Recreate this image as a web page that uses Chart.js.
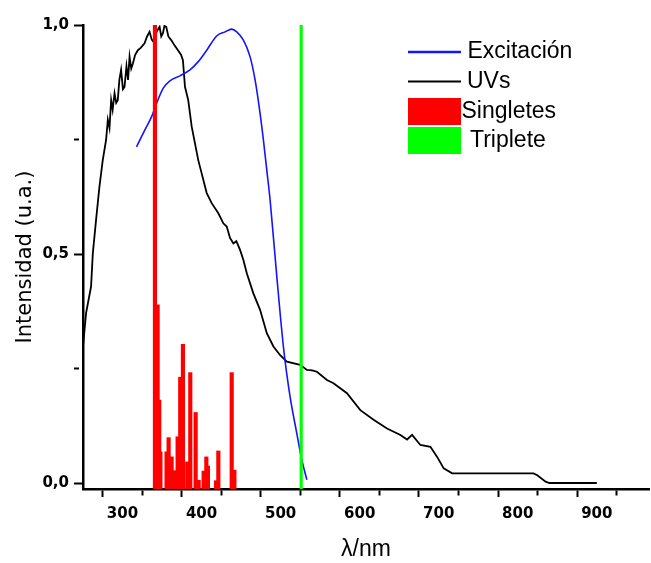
<!DOCTYPE html>
<html>
<head>
<meta charset="utf-8">
<script src="https://cdn.jsdelivr.net/npm/chart.js@4.4.1/dist/chart.umd.min.js"></script>
<style>
html,body{margin:0;padding:0;background:#ffffff;}
#wrap{width:651px;height:563px;}
</style>
</head>
<body>
<div id="wrap"><canvas id="c" width="651" height="563"></canvas></div>
<script>
// ---- data ----
const uvWavelength = [250.1,253.9,260.2,262.4,266.5,270.8,275.0,279.2,281.4,283.5,285.6,287.5,289.9,292.0,294.0,296.0,298.2,300.5,302.5,305.0,307.0,308.9,311.0,313.1,316.0,319.4,323.0,327.9,331.0,334.2,337.0,340.6,343.0,346.9,349.0,351.1,353.0,355.3,358.0,361.6,366.0,370.1,374.0,376.4,379.0,383.1,387.5,391.6,395.8,400.1,406.5,412.8,421.2,427.5,431.8,436.0,440.2,444.0,448.7,452.9,457.2,465.5,474.0,482.5,490.9,499.4,507.9,524.7,533.2,540.0,545.9,558.6,566.9,583.9,600.8,617.6,634.6,651.5,660.0,666.3,676.8,689.5,698.0,706.3,717.0,760.0,800.0,820.0,824.7,835.2,840.0,900.0];
const uvIntensity  = [0.300,0.371,0.429,0.501,0.574,0.647,0.705,0.749,0.793,0.775,0.836,0.815,0.851,0.830,0.836,0.880,0.902,0.860,0.865,0.910,0.880,0.931,0.905,0.916,0.935,0.945,0.950,0.960,0.975,0.985,0.968,0.960,0.985,0.996,0.975,0.982,0.998,0.996,0.975,0.967,0.955,0.945,0.935,0.923,0.865,0.836,0.778,0.742,0.705,0.676,0.633,0.611,0.589,0.567,0.560,0.535,0.523,0.528,0.509,0.487,0.458,0.414,0.378,0.327,0.298,0.279,0.265,0.258,0.247,0.246,0.243,0.225,0.218,0.196,0.159,0.138,0.119,0.105,0.095,0.105,0.083,0.079,0.057,0.032,0.021,0.021,0.021,0.021,0.017,0.003,0.000,0.000];

const excWavelength = [317.7,328.3,336.8,343.1,351.5,360.0,372.6,385.3,395.8,406.5,419.1,429.7,438.1,444.5,452.9,461.3,467.7,474.0,478.2,482.5,486.7,495.2,504.0,512.0,520.5,526.9,533.2];
const excIntensity  = [0.734,0.771,0.800,0.829,0.862,0.878,0.889,0.902,0.920,0.945,0.976,0.985,0.991,0.985,0.967,0.931,0.880,0.807,0.749,0.683,0.618,0.450,0.290,0.188,0.108,0.050,0.007];

const singWavelength = [341.0,344.4,346.4,347.9,355.7,358.3,362.1,365.0,369.7,373.0,376.4,381.9,385.7,392.5,396.3,402.6,406.0,408.0,418.3,421.2,438.1,441.5];
const singIntensity  = [1.000,0.389,0.181,0.068,0.068,0.099,0.057,0.027,0.101,0.231,0.303,0.046,0.241,0.154,0.006,0.026,0.057,0.037,0.005,0.070,0.241,0.028];

const tripWavelength = [526.0];
const tripIntensity  = [1.000];

const seriesLabels = ['Excitación', 'UVs', 'Singletes', 'Triplete'];

// axis ranges
const xMin = 250, xMax = 966, xStep = 50;
const yMin = -0.0131, yMax = 1.0, yStep = 0.25;

// ---- build library structures ----
const toPoints = (xs, ys) => xs.map((x, i) => ({x: x, y: ys[i]}));
const toBars = (xs, ys) => xs.map((x, i) => ({x: x, y: [yMin, ys[i]]}));

const COLORS = {exc: '#1414ff', uv: '#000000', sing: '#ff0000', trip: '#00ff00'};

const legendPlugin = {
  id: 'sketchLegend',
  afterDraw(chart) {
    const ctx = chart.ctx;
    const ds = chart.data.datasets;
    ctx.save();
    ctx.font = '23px "Liberation Sans", Arial, sans-serif';
    ctx.fillStyle = '#000';
    ctx.textBaseline = 'middle';
    ctx.textAlign = 'left';
    // Excitación (line)
    ctx.strokeStyle = ds[0].borderColor; ctx.lineWidth = 2.5;
    ctx.beginPath(); ctx.moveTo(408, 52); ctx.lineTo(461, 52); ctx.stroke();
    ctx.fillText(ds[0].label, 467.5, 52);
    // UVs (line)
    ctx.strokeStyle = ds[1].borderColor; ctx.lineWidth = 2;
    ctx.beginPath(); ctx.moveTo(408, 81.5); ctx.lineTo(461, 81.5); ctx.stroke();
    ctx.fillText(ds[1].label, 467, 81.5);
    // Singletes (box)
    ctx.fillStyle = ds[2].backgroundColor;
    ctx.fillRect(408, 98, 53, 27);
    ctx.fillStyle = '#000';
    ctx.fillText(ds[2].label, 461.5, 112);
    // Triplete (box)
    ctx.fillStyle = ds[3].backgroundColor;
    ctx.fillRect(408, 127, 53, 27);
    ctx.fillStyle = '#000';
    ctx.fillText(ds[3].label, 470, 140.5);
    ctx.restore();
  }
};

const tickFont = {family: '"DejaVu Sans", sans-serif', weight: 'bold', size: 15};

new Chart(document.getElementById('c'), {
  type: 'line',
  data: {
    datasets: [
      {
        label: seriesLabels[0], type: 'line', data: toPoints(excWavelength, excIntensity),
        borderColor: COLORS.exc, borderWidth: 1.6, pointRadius: 0, fill: false,
        cubicInterpolationMode: 'monotone', order: 2
      },
      {
        label: seriesLabels[1], type: 'line', data: toPoints(uvWavelength, uvIntensity),
        borderColor: COLORS.uv, borderWidth: 1.8, pointRadius: 0, fill: false,
        tension: 0, order: 3
      },
      {
        label: seriesLabels[2], type: 'bar', data: toBars(singWavelength, singIntensity),
        backgroundColor: COLORS.sing, borderWidth: 0, barThickness: 3.5, grouped: false, order: 0
      },
      {
        label: seriesLabels[3], type: 'bar', data: toBars(tripWavelength, tripIntensity),
        backgroundColor: COLORS.trip, borderWidth: 0, barThickness: 2.5, grouped: false, order: 1
      }
    ]
  },
  options: {
    responsive: false,
    maintainAspectRatio: false,
    devicePixelRatio: 1,
    animation: false,
    layout: {padding: {top: 25, right: 2, left: 0, bottom: 0}},
    plugins: {legend: {display: false}, tooltip: {enabled: false}},
    scales: {
      x: {
        type: 'linear', min: xMin, max: xMax, offset: false,
        border: {display: true, color: '#000', width: 2.5},
        grid: {
          display: true, drawOnChartArea: false, drawTicks: true, tickLength: 8, tickWidth: 2, tickColor: '#000',
          tickBorderDash: (c) => (c.tick && c.tick.value % 100 !== 0) ? [5, 30] : []
        },
        ticks: {
          stepSize: xStep, includeBounds: false, autoSkip: false, maxRotation: 0, minRotation: 0,
          padding: 8, color: '#000', font: tickFont,
          callback: (v) => (v % 100 === 0 ? String(v) : '')
        },
        title: {
          display: true, text: 'λ/nm', color: '#000',
          font: {family: '"Liberation Sans", Arial, sans-serif', size: 23},
          padding: {top: 0, bottom: 0}
        },
        afterFit: (s) => { s.height = 74; }
      },
      y: {
        type: 'linear', min: yMin, max: yMax,
        border: {display: true, color: '#000', width: 2.5},
        grid: {
          display: true, drawOnChartArea: false, drawTicks: true, tickLength: 9, tickWidth: 2, tickColor: '#000',
          tickBorderDash: (c) => (c.tick && Math.abs(c.tick.value * 2 - Math.round(c.tick.value * 2)) > 1e-6) ? [5, 30] : []
        },
        ticks: {
          stepSize: yStep, includeBounds: false, autoSkip: false,
          padding: 5, color: '#000', font: tickFont,
          callback: (v) => (Math.abs(v * 2 - Math.round(v * 2)) < 1e-6 ? v.toFixed(1).replace('.', ',') : '')
        },
        title: {
          display: true, text: 'Intensidad (u.a.)', color: '#000',
          font: {family: '"DejaVu Sans", sans-serif', size: 21},
          padding: {top: 13, bottom: 0}
        },
        afterFit: (s) => { s.width = 83; }
      }
    }
  },
  plugins: [legendPlugin]
});
</script>
</body>
</html>
